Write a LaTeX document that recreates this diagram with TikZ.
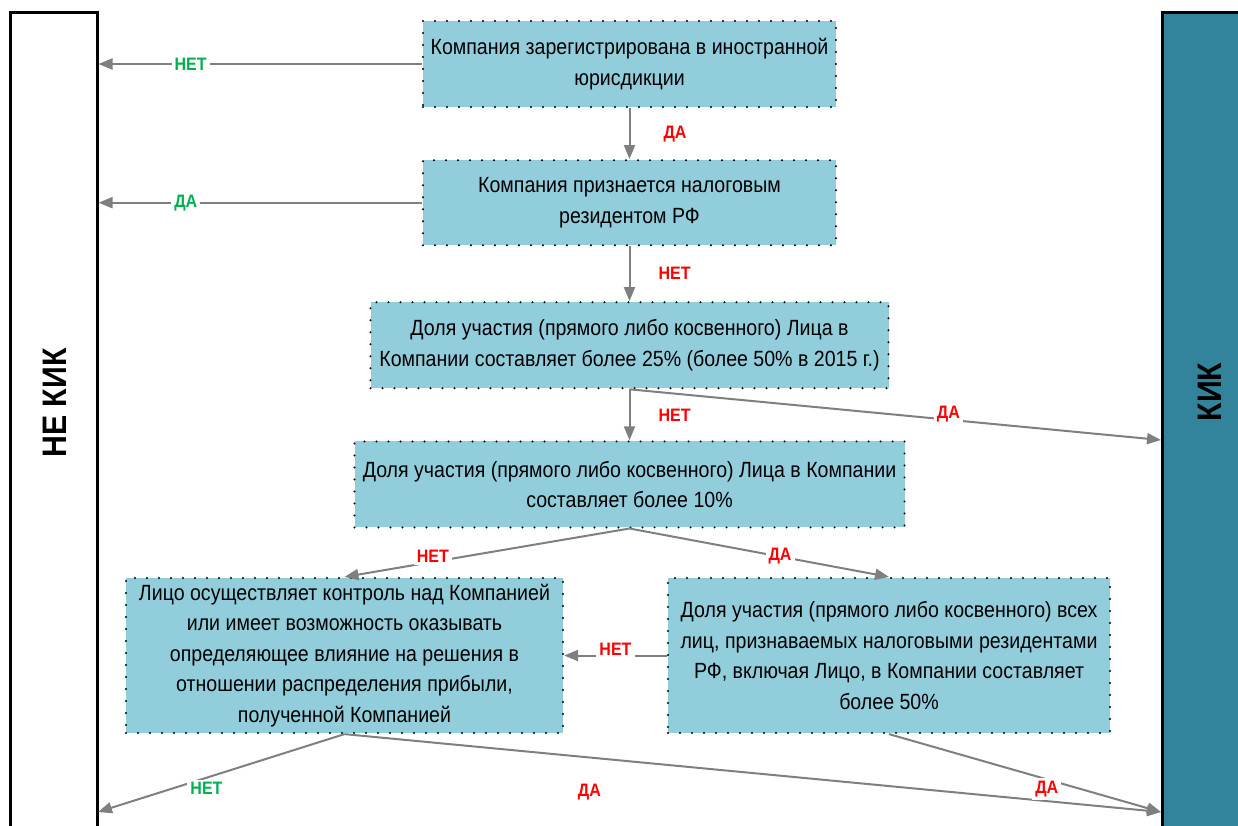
\documentclass[tikz,border=0pt]{standalone}
\usepackage{fontspec}
\setmainfont[FakeStretch=0.89]{Liberation Sans}
\usetikzlibrary{positioning,arrows.meta}

\definecolor{boxblue}{HTML}{92CDDC}
\definecolor{kikteal}{HTML}{31849B}
\definecolor{flowgray}{HTML}{7F7F7F}
\definecolor{yesgreen}{HTML}{00B050}

\begin{document}
\begin{tikzpicture}[x=1pt,y=-1pt,
                    check/.style={fill=boxblue,draw=black,line width=2.2pt,
                                  line cap=round,dash pattern=on 0pt off 12pt,
                                  align=center,inner sep=4pt,
                                  font=\fontsize{22}{30.5}\selectfont},
                    bar/.style={draw=black,line width=3pt,inner sep=0pt,
                                minimum width=87pt,minimum height=828pt},
                    barlabel/.style={font=\fontsize{34}{34}\bfseries\selectfont,
                                     rotate=90,inner sep=0pt},
                    flow/.style={draw=flowgray,line width=2pt,
                                 -{Triangle[length=14pt,width=11pt]}},
                    answer/.style={fill=white,inner sep=3pt,text=red,
                                   font=\fontsize{18}{18}\bfseries\selectfont},
                    okanswer/.style={answer,text=yesgreen}]
  \clip (0,0) rectangle (1238,825);

  % side bars
  \node[bar,fill=white] (nekik) at (53.5,426) {};
  \node[barlabel] (nekiklbl) at (55,403) {НЕ КИК};
  \node[bar,fill=kikteal,minimum width=88pt] (kik) at (1206,426) {};
  \node[barlabel] (kiklbl) at (1210,392) {КИК};

  % questions
  \node[check,minimum width=413pt,minimum height=86pt] (foreign) at (629.5,64)
    {Компания зарегистрирована в иностранной\\юрисдикции};
  \node[check,minimum width=413pt,minimum height=85pt,below=51pt of foreign] (resident)
    {Компания признается налоговым\\резидентом РФ};
  \node[check,minimum width=518pt,minimum height=86pt,below=54.8pt of resident] (share25)
    {Доля участия (прямого либо косвенного) Лица в\\Компании составляет более 25\% (более 50\% в 2015 г.)};
  \node[check,minimum width=550pt,minimum height=86pt,below=51pt of share25] (share10)
    {Доля участия (прямого либо косвенного) Лица в Компании\\составляет более 10\%};
  \node[check,minimum width=437pt,minimum height=155pt] (control) at (344.5,655.5)
    {Лицо осуществляет контроль над Компанией\\или имеет возможность оказывать\\определяющее влияние на решения в\\отношении распределения прибыли,\\полученной Компанией};
  \node[check,minimum width=442pt,minimum height=155pt] (share50) at (889,655.5)
    {Доля участия (прямого либо косвенного) всех\\лиц, признаваемых налоговыми резидентами\\РФ, включая Лицо, в Компании составляет\\более 50\%};

  \coordinate (kikhigh) at (1161,440);
  \coordinate (kiklow) at (1161,812);
  \coordinate (nekiklow) at (98,812);

  \draw[flow] (foreign.west) -- node[okanswer,pos=.715] {НЕТ} (foreign.west -| nekik.east);
  \draw[flow] (resident.west) -- node[okanswer,pos=.73] {ДА} (resident.west -| nekik.east);
  \draw[flow] (foreign) -- node[answer,right=30pt] {ДА} (resident);
  \draw[flow] (resident) -- node[answer,right=25pt] {НЕТ} (share25);
  \draw[flow] (share25) -- node[answer,right=25pt] {НЕТ} (share10);
  \draw[flow] (share25.south) -- node[answer,pos=.6,yshift=6pt] {ДА} (kikhigh);
  \draw[flow] (share10.south) -- node[answer,pos=.69,yshift=6pt] {НЕТ} (control.north);
  \draw[flow] (share10.south) -- node[answer,pos=.58] {ДА} (share50.north);
  \draw[flow] (share50) -- node[answer,yshift=6pt] {НЕТ} (control);
  \draw[flow] (control.south) -- node[okanswer,pos=.56,yshift=-11pt] {НЕТ} (nekiklow);
  \draw[flow] (control.south) -- node[answer,pos=.3,below=23pt] {ДА} (kiklow);
  \draw[flow] (share50.south) -- node[answer,pos=.58,yshift=-10pt] {ДА} (kiklow);
\end{tikzpicture}
\end{document}
